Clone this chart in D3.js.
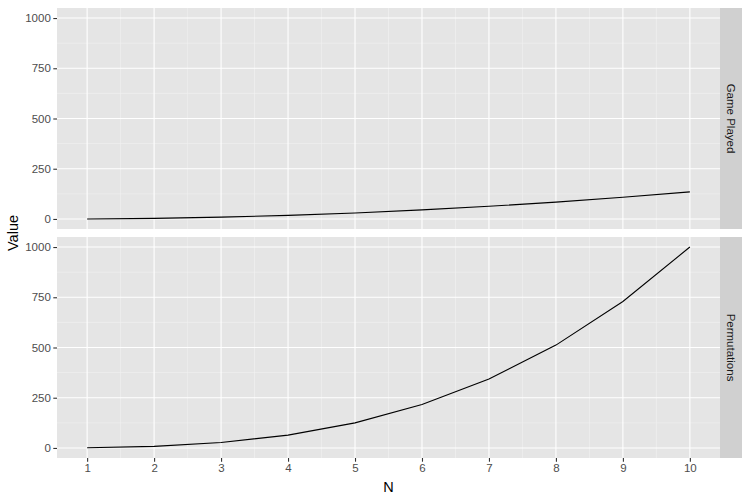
<!DOCTYPE html>
<html><head><meta charset="utf-8">
<script src="https://cdn.jsdelivr.net/npm/d3@7"></script>
<style>body{margin:0;background:#fff}svg{display:block}text{font-family:"Liberation Sans",Arial,sans-serif}</style>
</head><body><svg id="c" width="750" height="500"></svg>
<script>
const nValues = [1,2,3,4,5,6,7,8,9,10];
const gamePlayed = [0,3,9,18,30,45,63,84,108,135];
const permutations = [1,8,27,64,125,216,343,512,729,1000];
const facetNames = ["Game Played","Permutations"];
const xTicks = [1,2,3,4,5,6,7,8,9,10];
const yTicks = [0,250,500,750,1000];
const yMinor = [125,375,625,875];
const xMinor = [1.5,2.5,3.5,4.5,5.5,6.5,7.5,8.5,9.5];

const svg = d3.select("#c");
const left = 57, right = 720, stripW = 22;
const panels = [{top:8,bottom:229,vals:gamePlayed,name:facetNames[0]},
                {top:237,bottom:458,vals:permutations,name:facetNames[1]}];
const x = d3.scaleLinear().domain([1-0.45,10+0.45]).range([left,right]);

panels.forEach((p,i)=>{
  const y = d3.scaleLinear().domain([-50,1050]).range([p.bottom,p.top]);
  const g = svg.append("g");
  g.append("rect").attr("x",left).attr("y",p.top).attr("width",right-left).attr("height",p.bottom-p.top).attr("fill","#e5e5e5");
  g.selectAll(".ym").data(yMinor).join("line").attr("x1",left).attr("x2",right)
    .attr("y1",d=>y(d)).attr("y2",d=>y(d)).attr("stroke","#f2f2f2").attr("stroke-width",0.6);
  g.selectAll(".xm").data(xMinor).join("line").attr("y1",p.top).attr("y2",p.bottom)
    .attr("x1",d=>x(d)).attr("x2",d=>x(d)).attr("stroke","#f2f2f2").attr("stroke-width",0.6);
  g.selectAll(".yM").data(yTicks).join("line").attr("x1",left).attr("x2",right)
    .attr("y1",d=>y(d)).attr("y2",d=>y(d)).attr("stroke","#fff").attr("stroke-width",1.1);
  g.selectAll(".xM").data(xTicks).join("line").attr("y1",p.top).attr("y2",p.bottom)
    .attr("x1",d=>x(d)).attr("x2",d=>x(d)).attr("stroke","#fff").attr("stroke-width",1.1);
  const line = d3.line().x((d,j)=>x(nValues[j])).y(d=>y(d));
  g.append("path").datum(p.vals).attr("d",line).attr("fill","none").attr("stroke","#000").attr("stroke-width",1.1);
  const ya = g.append("g").attr("transform",`translate(${left},0)`)
    .call(d3.axisLeft(y).tickValues(yTicks).tickFormat(d3.format("d")).tickSize(3.7).tickPadding(2.5));
  ya.select(".domain").remove();
  ya.selectAll("line").attr("stroke","#333").attr("stroke-width",1.1);
  ya.selectAll("text").attr("fill","#4d4d4d").style("font-size","11.5px");
  g.append("rect").attr("x",right).attr("y",p.top).attr("width",stripW).attr("height",p.bottom-p.top).attr("fill","#d0d0d0");
  g.append("text").attr("transform",`translate(${right+stripW/2},${(p.top+p.bottom)/2}) rotate(90)`)
    .attr("text-anchor","middle").attr("dy","0.35em").attr("fill","#1a1a1a").style("font-size","11.5px").text(p.name);
});

const xa = svg.append("g").attr("transform",`translate(0,${panels[1].bottom})`)
  .call(d3.axisBottom(x).tickValues(xTicks).tickFormat(d3.format("d")).tickSize(3.7).tickPadding(2.5));
xa.select(".domain").remove();
xa.selectAll("line").attr("stroke","#333").attr("stroke-width",1.1);
xa.selectAll("text").attr("fill","#4d4d4d").style("font-size","11.5px");

svg.append("text").attr("x",(left+right)/2).attr("y",492).attr("text-anchor","middle")
  .attr("fill","#000").style("font-size","14.5px").text("N");
svg.append("text").attr("transform",`translate(18,${(8+458)/2}) rotate(-90)`).attr("text-anchor","middle")
  .attr("fill","#000").style("font-size","14.5px").text("Value");
</script></body></html>
